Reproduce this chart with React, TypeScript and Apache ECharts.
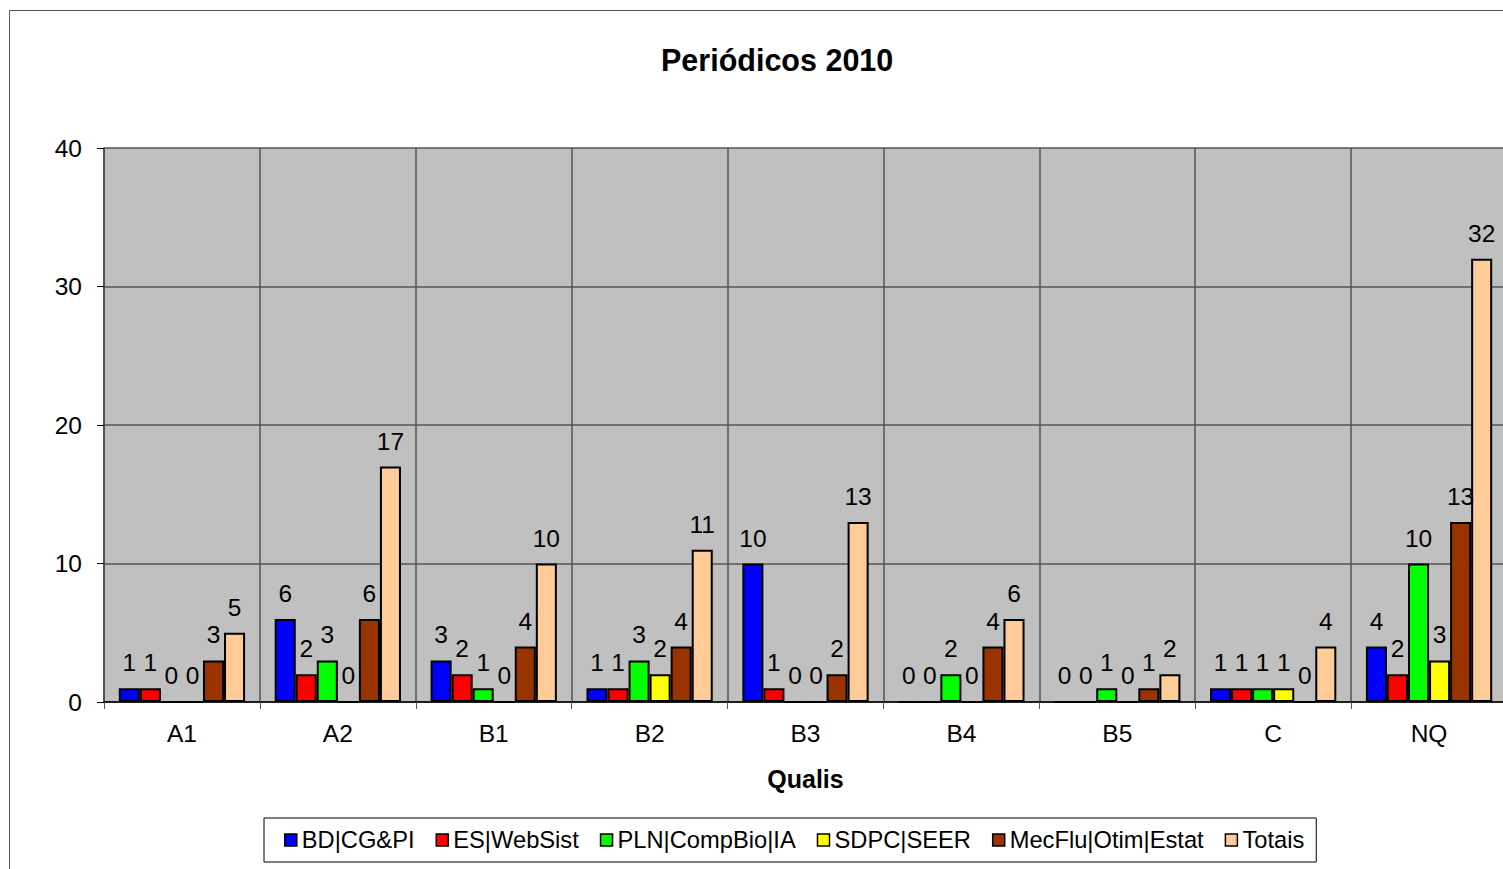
import React, { useEffect, useRef } from "react";
import * as echarts from "echarts";

const categories = ["A1", "A2", "B1", "B2", "B3", "B4", "B5", "C", "NQ"];
const seriesNames = ["BD|CG&PI", "ES|WebSist", "PLN|CompBio|IA", "SDPC|SEER", "MecFlu|Otim|Estat", "Totais"];
const bdcg = [1, 6, 3, 1, 10, 0, 0, 1, 4];
const esweb = [1, 2, 2, 1, 1, 0, 0, 1, 2];
const plncomp = [0, 3, 1, 3, 0, 2, 1, 1, 10];
const sdpc = [0, 0, 0, 2, 0, 0, 0, 1, 3];
const mecflu = [3, 6, 4, 4, 2, 4, 1, 0, 13];
const totais = [5, 17, 10, 11, 13, 6, 2, 4, 32];
const colors = ["#0000FF", "#FF0000", "#00FF00", "#FFFF00", "#993300", "#FFCC99"];
const yTicks = [0, 10, 20, 30, 40];

const FONT = "'Liberation Sans', Arial, sans-serif";

export default function App() {
  const ref = useRef<HTMLDivElement>(null);
  useEffect(() => {
    if (!ref.current) return;
    const chart = echarts.init(ref.current, null, { renderer: "svg" });
    const data = [bdcg, esweb, plncomp, sdpc, mecflu, totais];
    chart.setOption({
      animation: false,
      backgroundColor: "#FFFFFF",
      textStyle: { fontFamily: FONT },
      title: {
        text: "Periódicos 2010",
        left: 656,
        top: 39,
        textStyle: { fontFamily: FONT, fontSize: 30.5, fontWeight: "bold", color: "#000" },
      },
      graphic: [
        {
          type: "rect",
          shape: { x: 9.5, y: 10.5, width: 1600, height: 900 },
          style: { fill: "none", stroke: "#555", lineWidth: 1 },
          silent: true,
          z: 0,
        },
      ],
      legend: {
        left: 264,
        top: 818,
        orient: "horizontal",
        padding: [10, 12, 10, 20],
        itemGap: 21,
        itemWidth: 12,
        itemHeight: 12,
        icon: "rect",
        borderColor: "#000",
        borderWidth: 1,
        textStyle: { fontFamily: FONT, fontSize: 23.7, color: "#000" },
        data: seriesNames.map((n) => ({ name: n, itemStyle: { borderColor: "#000", borderWidth: 1.5 } })),
      },
      grid: {
        left: 104,
        right: 0,
        top: 148,
        bottom: 869 - 702,
        show: true,
        backgroundColor: "#C0C0C0",
        borderWidth: 0,
      },
      xAxis: {
        type: "category",
        data: categories,
        name: "Qualis",
        nameLocation: "middle",
        nameGap: 64,
        nameTextStyle: { fontFamily: FONT, fontSize: 25, fontWeight: "bold", color: "#000" },
        axisLine: { show: true, lineStyle: { color: "#000", width: 1.5 } },
        axisTick: { show: true, length: 7, lineStyle: { color: "#555" } },
        axisLabel: { fontFamily: FONT, fontSize: 24.5, color: "#000", margin: 19 },
        splitLine: { show: true, lineStyle: { color: "#555", width: 1.5 } },
      },
      yAxis: {
        type: "value",
        min: 0,
        max: 40,
        interval: 10,
        axisLine: { show: true, lineStyle: { color: "#444", width: 1.5 } },
        axisTick: { show: true, length: 7, lineStyle: { color: "#000" } },
        axisLabel: {
          fontFamily: FONT,
          fontSize: 24.5,
          color: "#000",
          margin: 22,
          formatter: (v: number) => (yTicks.includes(v) ? String(v) : ""),
        },
        splitLine: { show: true, lineStyle: { color: "#555", width: 1.5 } },
      },
      series: seriesNames.map((name, i) => ({
        name,
        type: "bar",
        data: data[i],
        barGap: "0%",
        barCategoryGap: "19%",
        itemStyle: { color: colors[i], borderColor: "#000", borderWidth: 2 },
        label: {
          show: true,
          position: "top",
          distance: 13,
          fontFamily: FONT,
          fontSize: 24.5,
          color: "#000",
        },
      })),
    });
    return () => chart.dispose();
  }, []);
  return (
    <div
      ref={ref}
      style={{ position: "fixed", left: 0, top: 0, width: 1507, height: 869 }}
    />
  );
}
